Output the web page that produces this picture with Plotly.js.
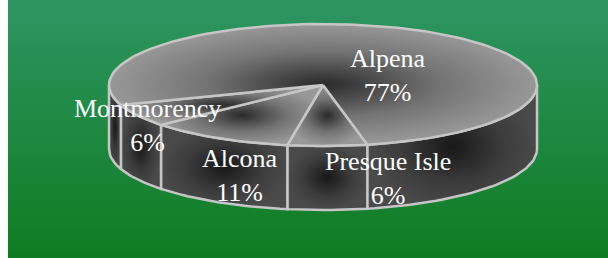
<!DOCTYPE html>
<html><head><meta charset="utf-8">
<script src="https://cdn.plot.ly/plotly-3.0.1.min.js"></script>
<style>
html,body{margin:0;padding:0;background:#fff;width:608px;height:258px;overflow:hidden;}
#chart{position:absolute;left:8px;top:0;width:600px;height:258px;background:linear-gradient(#2e9563,#0f7c21);}
</style></head><body><div id="chart"></div>
<script>
// ---- data ----
const categories = ['Presque Isle', 'Alcona', 'Montmorency', 'Alpena'];
const values = [6, 11, 6, 77];
const percentLabels = ['6%', '11%', '6%', '77%'];

// ---- geometry / style (page-pixel space of the axes) ----
const CX = 323, CY = 85, RX = 214, RY = 61, DEPTH = 64, START = 78;
const labelPos = [[388, 178], [240, 175], [147, 125], [388, 75]];
const EDGE = '#c6c6c6';

function pt(tDeg, dz) {
  const t = tDeg * Math.PI / 180;
  return [CX + RX * Math.cos(t), CY + RY * Math.sin(t) + (dz || 0)];
}
function arc(a0, a1, dz) {
  const n = Math.max(2, Math.ceil(Math.abs(a1 - a0) / 2));
  const out = [];
  for (let i = 0; i <= n; i++) out.push(pt(a0 + (a1 - a0) * i / n, dz));
  return out;
}
function poly(points, grad) {
  return {
    type: 'scatter', mode: 'lines', x: points.map(p => p[0]), y: points.map(p => p[1]),
    fill: 'toself', line: {color: EDGE, width: 2.5},
    fillgradient: {type: 'radial', colorscale: grad},
    hoverinfo: 'skip', showlegend: false
  };
}

const total = values.reduce((a, b) => a + b, 0);
const slices = [];
let acc = START;
values.forEach((v) => { const span = v / total * 360; slices.push([acc, acc + span]); acc += span; });

const topGrad = [[0, '#2a2a2a'], [0.55, '#747474'], [1, '#989898']];
const wallGrad = [[0, '#181818'], [0.6, '#3c3c3c'], [1, '#4a4a4a']];
const walls = [], tops = [];
slices.forEach(([a0, a1]) => {
  [0, 360].forEach(k => {
    const s = Math.max(a0, k), e = Math.min(a1, k + 180);
    if (e > s) {
      const pts = arc(s, e, 0).concat(arc(e, s, DEPTH));
      pts.push(pts[0]);
      walls.push(poly(pts, wallGrad));
    }
  });
  const pts = [[CX, CY]].concat(arc(a0, a1, 0));
  pts.push([CX, CY]);
  tops.push(poly(pts, topGrad));
});

const annotations = categories.map((c, i) => ({
  x: labelPos[i][0], y: labelPos[i][1], xref: 'x', yref: 'y',
  text: c + '<br>' + percentLabels[i], showarrow: false,
  font: {family: 'Liberation Serif', size: 26, color: '#ffffff'},
  xanchor: 'center', yanchor: 'middle'
}));

Plotly.newPlot('chart', walls.concat(tops), {
  width: 600, height: 258, margin: {l: 0, r: 0, t: 0, b: 0},
  paper_bgcolor: 'rgba(0,0,0,0)', plot_bgcolor: 'rgba(0,0,0,0)',
  xaxis: {range: [8, 608], visible: false, fixedrange: true},
  yaxis: {range: [258, 0], visible: false, fixedrange: true},
  annotations: annotations, showlegend: false
}, {staticPlot: true, displayModeBar: false});
</script></body></html>
